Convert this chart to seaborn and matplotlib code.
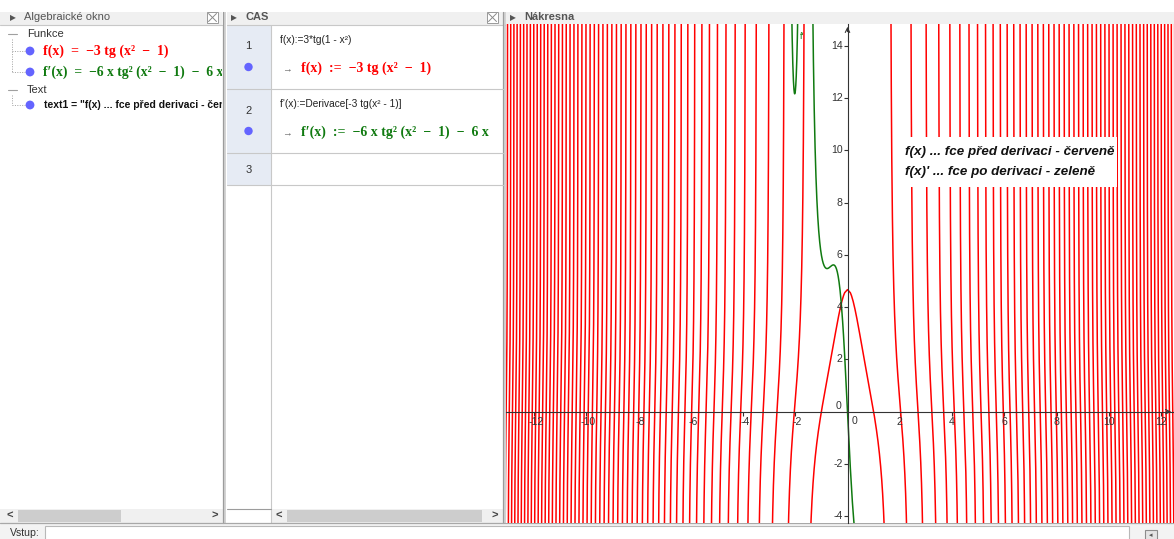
import numpy as np
import pandas as pd
import matplotlib
matplotlib.use("Agg")
import matplotlib.pyplot as plt
import matplotlib.transforms as mtrans
from matplotlib.patches import Rectangle, Circle
import seaborn as sns

# ---- function definition: f(x) = A*tg(x^2 - 1),  f'(x) = B*x*tg^2(x^2 - 1) + B*x
A = -3.0
B = -6.0
x_span = (-13.2, 12.7)
x_ticks = [-12, -10, -8, -6, -4, -2, 2, 4, 6, 8, 10, 12]
y_ticks = [-4, -2, 2, 4, 6, 8, 10, 12, 14]
func_names = ["f", "f′"]
func_colors = {"f": "#ff0000", "f′": "#107a10"}

# ---- texts of the views (en spaces around the operators, as in typeset formulas)
alg_title = "Algebraické okno"
cas_title = "CAS"
graph_title = "Nákresna"
alg_groups = ["Funkce", "Text"]
alg_f = "f(x)\u2002=\u2002−3 tg (x²\u2002−\u20021)"
alg_df = "f′(x)\u2002=\u2002−6 x tg² (x²\u2002−\u20021)\u2002−\u20026 x"
alg_text1 = "text1 = \"f(x) ... fce před derivaci - červeně\nf(x)' ... fce po derivaci - zeleně\""
cas_rows = ["1", "2", "3"]
cas_inputs = ["f(x):=3*tg(1 - x²)", "f'(x):=Derivace[-3 tg(x² - 1)]"]
cas_outputs = ["f(x)\u2002:=\u2002−3 tg (x²\u2002−\u20021)",
               "f′(x)\u2002:=\u2002−6 x tg² (x²\u2002−\u20021)\u2002−\u20026 x"]
note_lines = ["f(x) ... fce před derivaci - červeně", "f(x)' ... fce po derivaci - zeleně"]
input_label = "Vstup:"

sns.set_style("white")
plt.rcParams["font.family"] = ["Liberation Sans", "DejaVu Sans"]
SERIF = ["Liberation Serif", "DejaVu Serif"]

W, H = 1174, 539
fig = plt.figure(figsize=(W / 100, H / 100), dpi=100, facecolor="white")


def px_axes(x0, y0, x1, y1, z):
    ax = fig.add_axes([x0 / W, 1 - y1 / H, (x1 - x0) / W, (y1 - y0) / H], zorder=z)
    ax.set_xlim(x0, x1)
    ax.set_ylim(y1, y0)
    ax.axis("off")
    return ax


# ---------------------------------------------------------------- curves
def branch_samples():
    edge = np.pi / 2 - np.geomspace(0.25, 1e-4, 140)
    mid = np.linspace(-np.pi / 2 + 0.25, np.pi / 2 - 0.25, 160)[1:-1]
    v = np.concatenate([(-edge)[::-1], mid, edge])
    u0 = np.concatenate([np.linspace(-1.0, np.pi / 2 - 0.25, 200)[:-1], edge])
    xh = np.sqrt(1 + u0)
    yield np.concatenate([-xh[::-1], xh[1:]])
    kmax = int(np.ceil((max(abs(x_span[0]), abs(x_span[1])) ** 2 - 1) / np.pi)) + 1
    for k in range(1, kmax + 1):
        xs = np.sqrt(1 + k * np.pi + v)
        for sgn in (-1, 1):
            xb = np.sort(sgn * xs)
            if xb.max() < x_span[0] or xb.min() > x_span[1]:
                continue
            yield xb


frames = []
for i, xb in enumerate(branch_samples()):
    t = np.tan(xb ** 2 - 1)
    yf = np.clip(A * t, -40, 60)
    yd = np.clip(B * xb * t ** 2 + B * xb, -40, 60)
    frames.append(pd.DataFrame({"x": xb, "y": yf, "funkce": "f", "vetev": i}))
    frames.append(pd.DataFrame({"x": xb, "y": yd, "funkce": "f′", "vetev": i}))
curves = pd.concat(frames, ignore_index=True)

# graphics view geometry (pixels per unit and origin position)
S = 26.13
OX, OY = 847.5, 411.7
gx0, gy0, gx1, gy1 = 506, 24, 1174, 522.5
ax_g = fig.add_axes([gx0 / W, 1 - gy1 / H, (gx1 - gx0) / W, (gy1 - gy0) / H], zorder=2)
ax_g.set_facecolor("white")

for name in func_names:
    sns.lineplot(data=curves[curves["funkce"] == name], x="x", y="y", units="vetev",
                 estimator=None, sort=False, color=func_colors[name], linewidth=1.1,
                 legend=False, ax=ax_g)

ax_g.set_xlim((gx0 - OX) / S, (gx1 - OX) / S)
ax_g.set_ylim((OY - gy1) / S, (OY - gy0) / S)
ax_g.set_xlabel("")
ax_g.set_ylabel("")
for s in ["top", "right"]:
    ax_g.spines[s].set_visible(False)
for s in ["left", "bottom"]:
    ax_g.spines[s].set_position(("data", 0))
    ax_g.spines[s].set_color("#333333")
    ax_g.spines[s].set_linewidth(0.8)
ax_g.set_xticks(x_ticks)
ax_g.set_yticks(y_ticks)
ax_g.set_xticklabels([])
ax_g.set_yticklabels([])
ax_g.tick_params(bottom=True, left=True, length=3, width=0.8, color="#333333", direction="out")


def offset(dx, dy):
    return mtrans.offset_copy(ax_g.transData, fig=fig, x=dx, y=dy, units="dots")


lab = dict(fontsize=7.6, color="#333333")
for t in x_ticks:
    ax_g.text(t, 0, f"{t}", transform=offset(2 if t < 0 else 0, -10), ha="center", va="center", **lab)
ax_g.text(0, 0, "0", transform=offset(7, -9), ha="center", va="center", **lab)
for t in y_ticks:
    ax_g.text(0, t, f"{t}", transform=offset(-5, 0), ha="right", va="center", **lab)
ax_g.text(0, 0, "0", transform=offset(-6, 6), ha="right", va="center", **lab)
ytop = (OY - gy0) / S
xright = (gx1 - OX) / S
ax_g.annotate("", xy=(0, ytop), xytext=(0, ytop - 0.4),
              arrowprops=dict(arrowstyle="->", color="#333333", lw=0.8, mutation_scale=8))
ax_g.annotate("", xy=(xright, 0), xytext=(xright - 0.4, 0),
              arrowprops=dict(arrowstyle="->", color="#333333", lw=0.8, mutation_scale=8))
ax_g.text(-1.75, 14.35, "f'", color=func_colors["f′"], fontsize=6.5, ha="center", va="center")

# ---------------------------------------------------------------- window chrome
ax_ui = px_axes(0, 0, W, H, 0)
HEAD = "#f0f0f0"
LINE = "#c8c8c8"
for x0, x1 in [(0, 222), (227, 503), (505, 1174)]:
    ax_ui.add_patch(Rectangle((x0, 11.5), x1 - x0, 13, fc=HEAD, ec="none"))
    ax_ui.plot([x0, x1], [24.5, 24.5], color=LINE, lw=0.8)
tri = dict(fontsize=5.5, color="#555555", va="center", ha="center", family=["DejaVu Sans"])
ax_ui.text(12.5, 17.5, "▶", **tri)
ax_ui.text(234, 17.5, "▶", **tri)
ax_ui.text(512.5, 17.5, "▶", **tri)
ax_ui.text(24, 17.5, alg_title, fontsize=8, color="#555555", va="center")
ax_ui.text(245, 17.5, cas_title, fontsize=8, color="#555555", va="center", fontweight="bold")
ax_ui.text(524, 17.5, graph_title, fontsize=8, color="#555555", va="center", fontweight="bold")
for bx in (207, 487):
    ax_ui.add_patch(Rectangle((bx, 12), 11, 11, fc="white", ec="#9a9a9a", lw=0.7))
    ax_ui.plot([bx + 1.5, bx + 9.5], [13.5, 21.5], color="#8a8a8a", lw=0.7)
    ax_ui.plot([bx + 1.5, bx + 9.5], [21.5, 13.5], color="#8a8a8a", lw=0.7)

# splitters between views
for sx in (222.5, 502.5):
    ax_ui.add_patch(Rectangle((sx, 11.5), 3.5, 511.5, fc="#d4d4d4", ec="none"))
    ax_ui.plot([sx + 0.7, sx + 0.7], [11.5, 523], color="#9c9c9c", lw=0.9)
ax_ui.plot([505.5, 505.5], [24, 523], color="#b0b0b0", lw=0.8)

# CAS table frame
ax_ui.add_patch(Rectangle((227, 25), 44, 160, fc="#e6ebf4", ec="none"))
for ry in (89, 153, 185):
    ax_ui.plot([227, 502.5], [ry, ry], color=LINE, lw=0.8)
ax_ui.plot([271, 271], [25, 523], color=LINE, lw=0.8)
ax_ui.plot([227, 271], [509, 509], color="#9c9c9c", lw=0.8)

# scrollbars
SB = "#f0f0f0"
ax_ui.add_patch(Rectangle((0, 509), 222.5, 13.5, fc=SB, ec="none"))
ax_ui.add_patch(Rectangle((18, 509.5), 103, 12, fc="#cdcdcd", ec="none"))
ax_ui.add_patch(Rectangle((271.5, 509), 231, 13.5, fc=SB, ec="none"))
ax_ui.add_patch(Rectangle((287, 509.5), 195, 12, fc="#cdcdcd", ec="none"))
arr = dict(fontsize=8, color="#444444", va="center", ha="center", fontweight="bold")
ax_ui.text(10, 515.5, "<", **arr)
ax_ui.text(215, 515.5, ">", **arr)
ax_ui.text(279, 515.5, "<", **arr)
ax_ui.text(495, 515.5, ">", **arr)

# input bar
ax_ui.add_patch(Rectangle((0, 523), W, 16, fc="#f3f3f3", ec="none"))
ax_ui.plot([0, W], [523, 523], color="#a8a8a8", lw=0.9)
ax_ui.add_patch(Rectangle((45, 525.5), 1084, 20, fc="white", ec="#b8b8b8", lw=0.8))
ax_ui.text(10, 536.3, input_label, fontsize=7.6, color="#333333", va="baseline")
ax_ui.add_patch(Rectangle((1145, 529.5), 12, 12, fc="#e4e4e4", ec="#8c8c8c", lw=0.8))
ax_ui.text(1151, 535, "◂", fontsize=5, color="#555555", ha="center", va="center",
           family=["DejaVu Sans"])

# ---------------------------------------------------------------- algebra view
DOT = "#6464ff"
ax_alg = px_axes(0, 25, 222, 508.5, 1)
for gy, name in zip((34, 90), alg_groups):
    ax_alg.plot([8, 17], [gy, gy], color="#a0a0a0", lw=0.8)
    ax_alg.text(27, gy, name, fontsize=8, color="#333333", va="center")
ax_alg.plot([12, 12], [39, 72], color="#a0a0a0", lw=0.7, ls=(0, (1, 1.5)))
ax_alg.plot([12, 12], [95, 105], color="#a0a0a0", lw=0.7, ls=(0, (1, 1.5)))
for dy in (51, 72, 105):
    ax_alg.plot([12, 25], [dy, dy], color="#a0a0a0", lw=0.7, ls=(0, (1, 1.5)))
    ax_alg.add_patch(Circle((30, dy), 4.4, fc=DOT, ec="none"))
ax_alg.text(43, 51, alg_f, fontsize=10, fontweight="bold", family=SERIF,
            color=func_colors["f"], va="center", clip_on=True)
ax_alg.text(43, 72, alg_df, fontsize=9.8, fontweight="bold", family=SERIF,
            color=func_colors["f′"], va="center", clip_on=True)
ax_alg.text(44, 105, alg_text1.split("\n")[0], fontsize=7.5, fontweight="bold",
            color="#111111", va="center", clip_on=True)

# ---------------------------------------------------------------- CAS view
ax_cas = px_axes(227, 25, 502.5, 508.5, 1)
for ry, num in zip((46, 111, 170), cas_rows):
    ax_cas.text(248.5, ry, num, fontsize=8, color="#333333", ha="center", va="center")
for ry in (67, 131):
    ax_cas.add_patch(Circle((248.5, ry), 4.2, fc=DOT, ec="none"))
for ry, txt in zip((40, 104), cas_inputs):
    ax_cas.text(280, ry, txt, fontsize=7.3, color="#222222", va="center", clip_on=True)
for ry, txt, name in zip((68, 132), cas_outputs, func_names):
    ax_cas.text(282, ry + 1, "→", fontsize=7, color="#666666", va="center", clip_on=True)
    ax_cas.text(301, ry, txt, fontsize=10, fontweight="bold", family=SERIF,
                color=func_colors[name], va="center", clip_on=True)

# ---------------------------------------------------------------- note in the graphics view
ax_top = px_axes(0, 0, W, H, 3)
ax_top.add_patch(Rectangle((895, 137), 222, 50, fc="white", ec="none"))
for ny, txt in zip((152, 172), note_lines):
    ax_top.text(905, ny, txt, fontsize=9.6, fontweight="bold", fontstyle="italic",
                color="#111111", va="center")

fig.savefig("out.png", dpi=100, facecolor="white")
